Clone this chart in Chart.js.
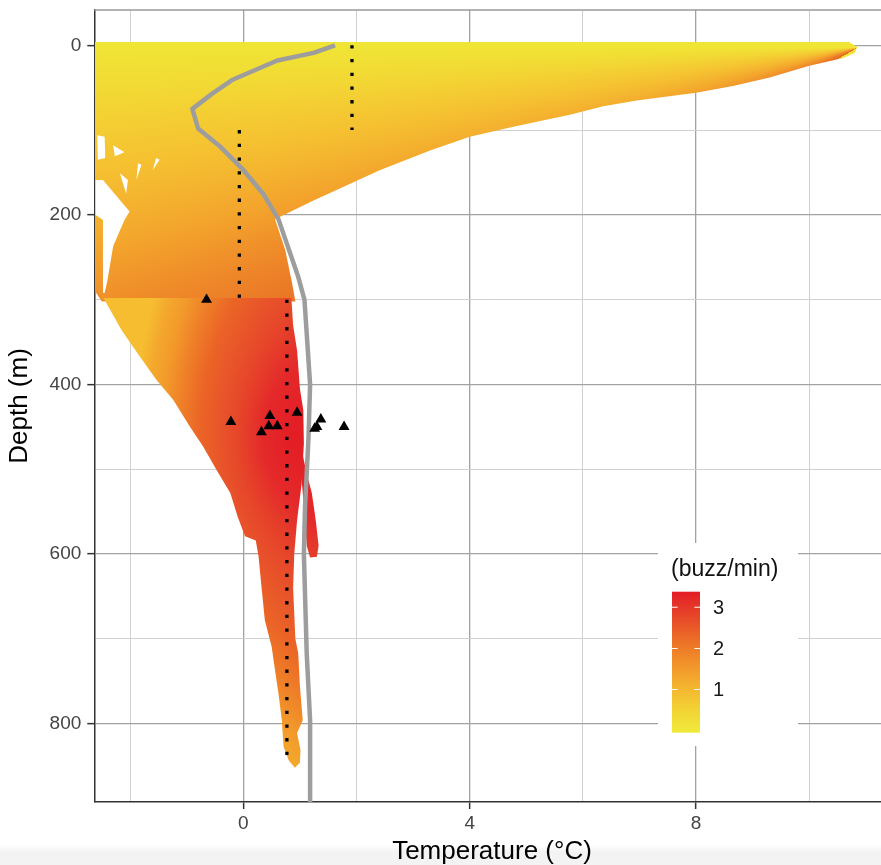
<!DOCTYPE html>
<html>
<head>
<meta charset="utf-8">
<script src="https://cdn.jsdelivr.net/npm/chart.js@4.4.1/dist/chart.umd.min.js"></script>
<style>
  html, body { margin: 0; padding: 0; }
  body {
    width: 881px; height: 865px; overflow: hidden;
    background: linear-gradient(to bottom, #fff 0, #fff 845px, #f3f3f3 852px, #f3f3f3 865px);
  }
  canvas { display: block; }
</style>
</head>
<body>
<canvas id="depthChart" width="881" height="865"></canvas>
<script>
// axis ranges and ticks
const xMin = -2.633, xMax = 11.267;
const yMin = -41.6, yMax = 892.3;
const xGridValues = [-2, 0, 2, 4, 6, 8, 10];
const xLabelValues = [0, 4, 8];
const yGridValues = [0, 100, 200, 300, 400, 500, 600, 700, 800];
const yLabelValues = [0, 200, 400, 600, 800];

// mean temperature profile (grey line)
const profileTemp  = [1.62, 1.24, 0.6, -0.2, -0.55, -0.9, -0.8, -0.4, 0, 0.35, 0.62, 0.8, 0.97, 1.08, 1.18, 1.15, 1.09, 1.07, 1.12, 1.18, 1.18];
const profileDepth = [0, 9, 18, 41, 57, 75, 98, 120, 147, 175, 205, 240, 273, 300, 400, 465, 545, 600, 717, 796, 895];

// dotted vertical segments
const dottedTemp   = [1.92, -0.07, 0.77];
const dottedTop    = [0, 100, 300];
const dottedBottom = [100, 300, 840];

// buzz positions (triangles)
const buzzTemp  = [-0.65, -0.22, 0.47, 0.45, 0.6, 0.32, 0.95, 1.37, 1.3, 1.26, 1.78];
const buzzDepth = [300, 444, 437, 449, 449, 456, 433, 441, 450, 452, 450];

// outline of the dive tracks, upper part (surface + warm tail)
const surfTemp  = [-2.62, 10.7, 10.85, 10.8, 10.6, 10.0, 9.3, 8.65, 8.0, 6.95, 6.36, 5.77, 4.77, 4.0, 3.3, 2.42, 1.24, 0.56, 0.74, 0.86, 0.92, -2.5, -2.62];
const surfDepth = [-4, -4, 2, 9, 15, 24, 38, 48, 56, 65, 72, 82, 96, 108, 124, 147, 183, 205, 241, 280, 302, 302, 290];

// outline of the dive tracks below 300 m
const deepTemp  = [-2.47, 0.85, 0.88, 0.95, 1.0, 1.06, 1.07, 1.03, 0.95, 0.9, 0.88, 0.92, 0.97, 1.0, 1.05, 0.95, 1.01, 1.0, 0.91, 0.8, 0.71, 0.68, 0.62, 0.56, 0.5, 0.38, 0.32, 0.27, 0.22, 0.03, -0.1, -0.23, -0.47, -0.71, -0.94, -1.24, -1.53, -1.83, -2.15];
const deepDepth = [298, 298, 330, 360, 405, 430, 470, 517, 560, 600, 640, 700, 717, 756, 796, 811, 831, 846, 852, 843, 827, 796, 764, 737, 709, 678, 638, 603, 584, 579, 556, 528, 501, 473, 450, 418, 395, 367, 336];
const lobeTemp  = [1.04, 1.12, 1.21, 1.28, 1.33, 1.3, 1.18, 1.12, 1.08, 1.02];
const lobeDepth = [480, 505, 528, 560, 590, 603, 604, 590, 550, 505];

// empty patches between tracks on the left
const gapWedgeTemp  = [-2.61, -2.48, -2.01, -2.1, -2.3, -2.4, -2.45, -2.48, -2.48, -2.61];
const gapWedgeDepth = [159, 159, 196, 206, 237, 277, 292, 292, 206, 200];
const gapSmallTemp  = [-2.58, -2.45, -2.44, -2.57];
const gapSmallDepth = [106, 108, 133, 135];
const gapTriATemp = [-2.3, -2.1, -2.27],  gapTriADepth = [118, 126, 131];
const gapTriBTemp = [-1.86, -1.8, -1.89], gapTriBDepth = [139, 141, 159];
const gapTriCTemp = [-1.54, -1.48, -1.6], gapTriCDepth = [133, 135, 147];
const gapTriDTemp = [-2.18, -2.04, -2.07], gapTriDDepth = [151, 159, 175];

// colour bar
const barMin = -0.05, barMax = 3.38;
const barTicks = [1, 2, 3];
const barStops = [[-0.05, '#f0ea3b'], [0.5, '#f2d335'], [1, '#f4b831'], [1.5, '#f29a2b'], [2, '#ee7c27'], [2.5, '#e95a28'], [3, '#e5382a'], [3.38, '#e31c24']];

// shading of the track areas
const surfaceShade = {
  centre: [10.85, 3], start: 150,
  stops: [[150, '#e66a25'], [156, '#ea7526'], [159, '#ed8228'], [162, '#f0922a'], [165, '#f3a42c'], [168, '#f4b32f'],
          [171, '#f5c131'], [174, '#f4cd33'], [177, '#f2da34'], [180, '#f0e435'], [210, '#f0e435']]
};
const deepShade = {
  core: [0.85, 460], shiftX: 5.9, radiusX: 8.67,
  stops: [[0, '#e31d25'], [0.18, '#e4292a'], [0.33, '#e6442a'], [0.45, '#e8542a'], [0.58, '#eb6426'], [0.72, '#ef8228'], [0.82, '#f29a2b'], [0.92, '#f4a92d'], [1, '#f6bd31']]
};

const FONT = "'Liberation Sans', Arial, Helvetica, sans-serif";
Chart.defaults.font.family = FONT;

const pts = (xs, ys) => xs.map((x, i) => ({x, y: ys[i]}));

function surfaceFill(context) {
  const {ctx, chartArea, scales} = context.chart;
  if (!chartArea) return '#f4c832';
  const cx = scales.x.getPixelForValue(surfaceShade.centre[0]);
  const cy = scales.y.getPixelForValue(surfaceShade.centre[1]);
  const g = ctx.createConicGradient(surfaceShade.start * Math.PI / 180, cx, cy);
  surfaceShade.stops.forEach(([deg, col]) => g.addColorStop((deg - surfaceShade.start) / 360, col));
  return g;
}

function deepFill(context) {
  const {ctx, chartArea, scales} = context.chart;
  if (!chartArea) return '#e8512a';
  const x0 = scales.x.getPixelForValue(deepShade.core[0]);
  const y0 = scales.y.getPixelForValue(deepShade.core[1]);
  const x1 = scales.x.getPixelForValue(deepShade.core[0] + deepShade.shiftX);
  const r1 = scales.x.getPixelForValue(deepShade.core[0] + deepShade.radiusX) - x0;
  const g = ctx.createRadialGradient(x0, y0, 0, x1, y0, r1);
  deepShade.stops.forEach(([t, col]) => g.addColorStop(t, col));
  return g;
}

const shapeSet = (xs, ys, colour, order) => ({
  data: pts(xs, ys), fill: 'shape', backgroundColor: colour,
  borderColor: 'rgba(0,0,0,0)', borderWidth: 0, pointRadius: 0, tension: 0, order
});

const datasets = [
  {
    data: pts(buzzTemp, buzzDepth), showLine: false, pointStyle: 'triangle',
    pointRadius: 6.3, pointBackgroundColor: '#000', pointBorderColor: '#000', pointBorderWidth: 0, order: 0
  },
  ...dottedTemp.map((t, i) => ({
    data: [{x: t, y: dottedTop[i]}, {x: t, y: dottedBottom[i]}],
    borderColor: '#000', borderWidth: 3.3, borderDash: [3.3, 10.4], borderCapStyle: 'butt',
    pointRadius: 0, fill: false, order: 1
  })),
  {
    data: pts(profileTemp, profileDepth), borderColor: '#9d9d9d', borderWidth: 4.5,
    borderJoinStyle: 'round', pointRadius: 0, fill: false, tension: 0, order: 2
  },
  shapeSet(gapWedgeTemp, gapWedgeDepth, '#fff', 3),
  shapeSet(gapSmallTemp, gapSmallDepth, '#fff', 3),
  shapeSet(gapTriATemp, gapTriADepth, '#fff', 3),
  shapeSet(gapTriBTemp, gapTriBDepth, '#fff', 3),
  shapeSet(gapTriCTemp, gapTriCDepth, '#fff', 3),
  shapeSet(gapTriDTemp, gapTriDDepth, '#fff', 3),
  shapeSet(lobeTemp, lobeDepth, deepFill, 4),
  shapeSet(deepTemp, deepDepth, deepFill, 5),
  shapeSet(surfTemp, surfDepth, surfaceFill, 6)
];

// panel top edge, x title and colour bar legend
const panelDecor = {
  id: 'panelDecor',
  afterDraw(chart) {
    const {ctx, chartArea: a} = chart;
    ctx.save();
    ctx.strokeStyle = '#9a9a9a';
    ctx.lineWidth = 1.3;
    ctx.beginPath();
    ctx.moveTo(a.left, a.top);
    ctx.lineTo(a.right, a.top);
    ctx.stroke();

    // the panel runs a little past the right edge, so the title sits right of centre
    ctx.fillStyle = '#000';
    ctx.font = '26px ' + FONT;
    ctx.textAlign = 'center';
    ctx.textBaseline = 'middle';
    ctx.fillText('Temperature (°C)', 492, 852);

    ctx.fillStyle = '#fff';
    ctx.fillRect(658, 543, 140, 203);

    ctx.fillStyle = '#111';
    ctx.font = '23px ' + FONT;
    ctx.textAlign = 'left';
    ctx.fillText('(buzz/min)', 671, 570);

    const left = 672, right = 700, top = 591.7, bottom = 732.7;
    const vy = v => bottom - (v - barMin) / (barMax - barMin) * (bottom - top);
    const g = ctx.createLinearGradient(0, bottom, 0, top);
    barStops.forEach(([v, col]) => g.addColorStop((v - barMin) / (barMax - barMin), col));
    ctx.fillStyle = g;
    ctx.fillRect(left, top, right - left, bottom - top);

    ctx.strokeStyle = '#fff';
    ctx.lineWidth = 1.1;
    ctx.fillStyle = '#1a1a1a';
    ctx.font = '20px ' + FONT;
    barTicks.forEach(v => {
      const y = vy(v);
      ctx.beginPath();
      ctx.moveTo(left, y); ctx.lineTo(left + 5.6, y);
      ctx.moveTo(right - 5.6, y); ctx.lineTo(right, y);
      ctx.stroke();
      ctx.fillText(String(v), 713, y + 1);
    });
    ctx.restore();
  }
};

const gridColour = major => major ? '#a2a2a2' : '#d0d0d0';
const noPadding = s => { s.paddingTop = 0; s.paddingBottom = 0; s.paddingLeft = 0; s.paddingRight = 0; };

new Chart(document.getElementById('depthChart'), {
  type: 'line',
  data: { datasets },
  options: {
    responsive: false,
    animation: false,
    events: [],
    layout: { autoPadding: false, padding: { top: 10, left: 0, right: 0, bottom: 0 } },
    plugins: { legend: { display: false }, tooltip: { enabled: false } },
    scales: {
      x: {
        type: 'linear', min: xMin, max: xMax,
        afterBuildTicks: s => { s.ticks = xGridValues.map(v => ({value: v})); },
        afterFit: s => { s.height = 63; noPadding(s); },
        grid: {
          color: c => gridColour(xLabelValues.includes(c.tick.value)),
          lineWidth: c => xLabelValues.includes(c.tick.value) ? 1.3 : 1,
          tickColor: c => xLabelValues.includes(c.tick.value) ? '#333' : 'rgba(0,0,0,0)',
          tickLength: 7, tickWidth: 1.5
        },
        border: { display: true, color: '#333', width: 1.5 },
        ticks: {
          autoSkip: false, maxRotation: 0, padding: 3,
          color: '#444', font: { size: 19 },
          callback: v => xLabelValues.includes(v) ? String(v) : ''
        },
        title: { display: false }
      },
      y: {
        type: 'linear', reverse: true, min: yMin, max: yMax,
        afterBuildTicks: s => { s.ticks = yGridValues.map(v => ({value: v})); },
        afterFit: s => { s.width = 94.3; noPadding(s); },
        grid: {
          color: c => gridColour(yLabelValues.includes(c.tick.value)),
          lineWidth: c => yLabelValues.includes(c.tick.value) ? 1.3 : 1,
          tickColor: c => yLabelValues.includes(c.tick.value) ? '#333' : 'rgba(0,0,0,0)',
          tickLength: 7, tickWidth: 1.5
        },
        border: { display: true, color: '#333', width: 1.5 },
        ticks: {
          autoSkip: false, padding: 6,
          color: '#444', font: { size: 19 },
          callback: v => yLabelValues.includes(v) ? String(v) : ''
        },
        title: {
          display: true, text: 'Depth (m)', color: '#000',
          font: { size: 26 }, padding: { top: 4.5, bottom: 0 }
        }
      }
    }
  },
  plugins: [panelDecor]
});
</script>
</body>
</html>
